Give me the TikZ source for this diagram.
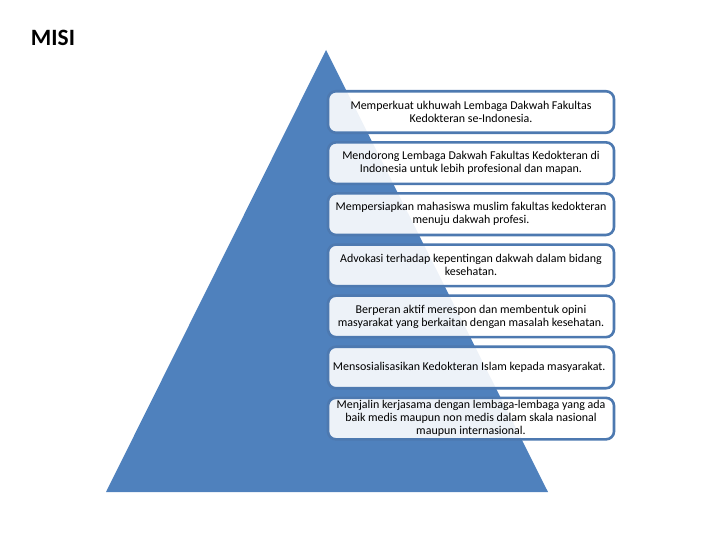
\documentclass[tikz,border=0pt]{standalone}
\usepackage{fontspec}
\setmainfont{Carlito}
\usetikzlibrary{positioning}
\definecolor{misiblue}{HTML}{4F81BD}
\definecolor{misiedge}{HTML}{4D79B0}

\begin{document}
\begin{tikzpicture}[
  x=1bp, y=-1bp,
  misibox/.style={
    draw=misiedge,
    fill=white,
    fill opacity=0.9,
    text opacity=1,
    line width=2.6bp,
    rounded corners=8bp,
    minimum width=286bp,
    minimum height=41.5bp,
    inner sep=1pt,
    align=center,
    text=black,
    font=\fontsize{12}{13}\selectfont
  }
]
  \useasboundingbox (0,0) rectangle (720,540);

  % Title
  \node[font=\bfseries\fontsize{23.5}{26}\selectfont] (title) at (53,38) {MISI};

  % Pyramid behind the list
  \coordinate (apex) at (326,50);
  \coordinate (baseR) at (548,492);
  \coordinate (baseL) at (106,492);
  \fill[misiblue] (apex) -- (baseR) -- (baseL) -- cycle;

  % --- Mission list ---
  \node[misibox] (m1) at (471,112) {
    Memperkuat ukhuwah Lembaga Dakwah Fakultas\\
    Kedokteran se-Indonesia.
  };

  \node[misibox, below=7bp of m1] (m2) {
    Mendorong Lembaga Dakwah Fakultas Kedokteran di\\
    Indonesia untuk lebih profesional dan mapan.
  };

  \node[misibox, below=7bp of m2] (m3) {
    Mempersiapkan mahasiswa muslim fakultas kedokteran\\
    menuju dakwah profesi.
  };

  \node[misibox, below=7bp of m3] (m4) {
    Advokasi terhadap kepentingan dakwah dalam bidang\\
    kesehatan.
  };

  \node[misibox, below=7bp of m4] (m5) {
    Berperan aktif merespon dan membentuk opini\\
    masyarakat yang berkaitan dengan masalah kesehatan.
  };

  \node[misibox, below=7bp of m5] (m6) {
    Mensosialisasikan Kedokteran Islam kepada masyarakat.
  };

  \node[misibox, below=7bp of m6] (m7) {
    Menjalin kerjasama dengan lembaga-lembaga yang ada\\
    baik medis maupun non medis dalam skala nasional\\
    maupun internasional.
  };

\end{tikzpicture}
\end{document}
